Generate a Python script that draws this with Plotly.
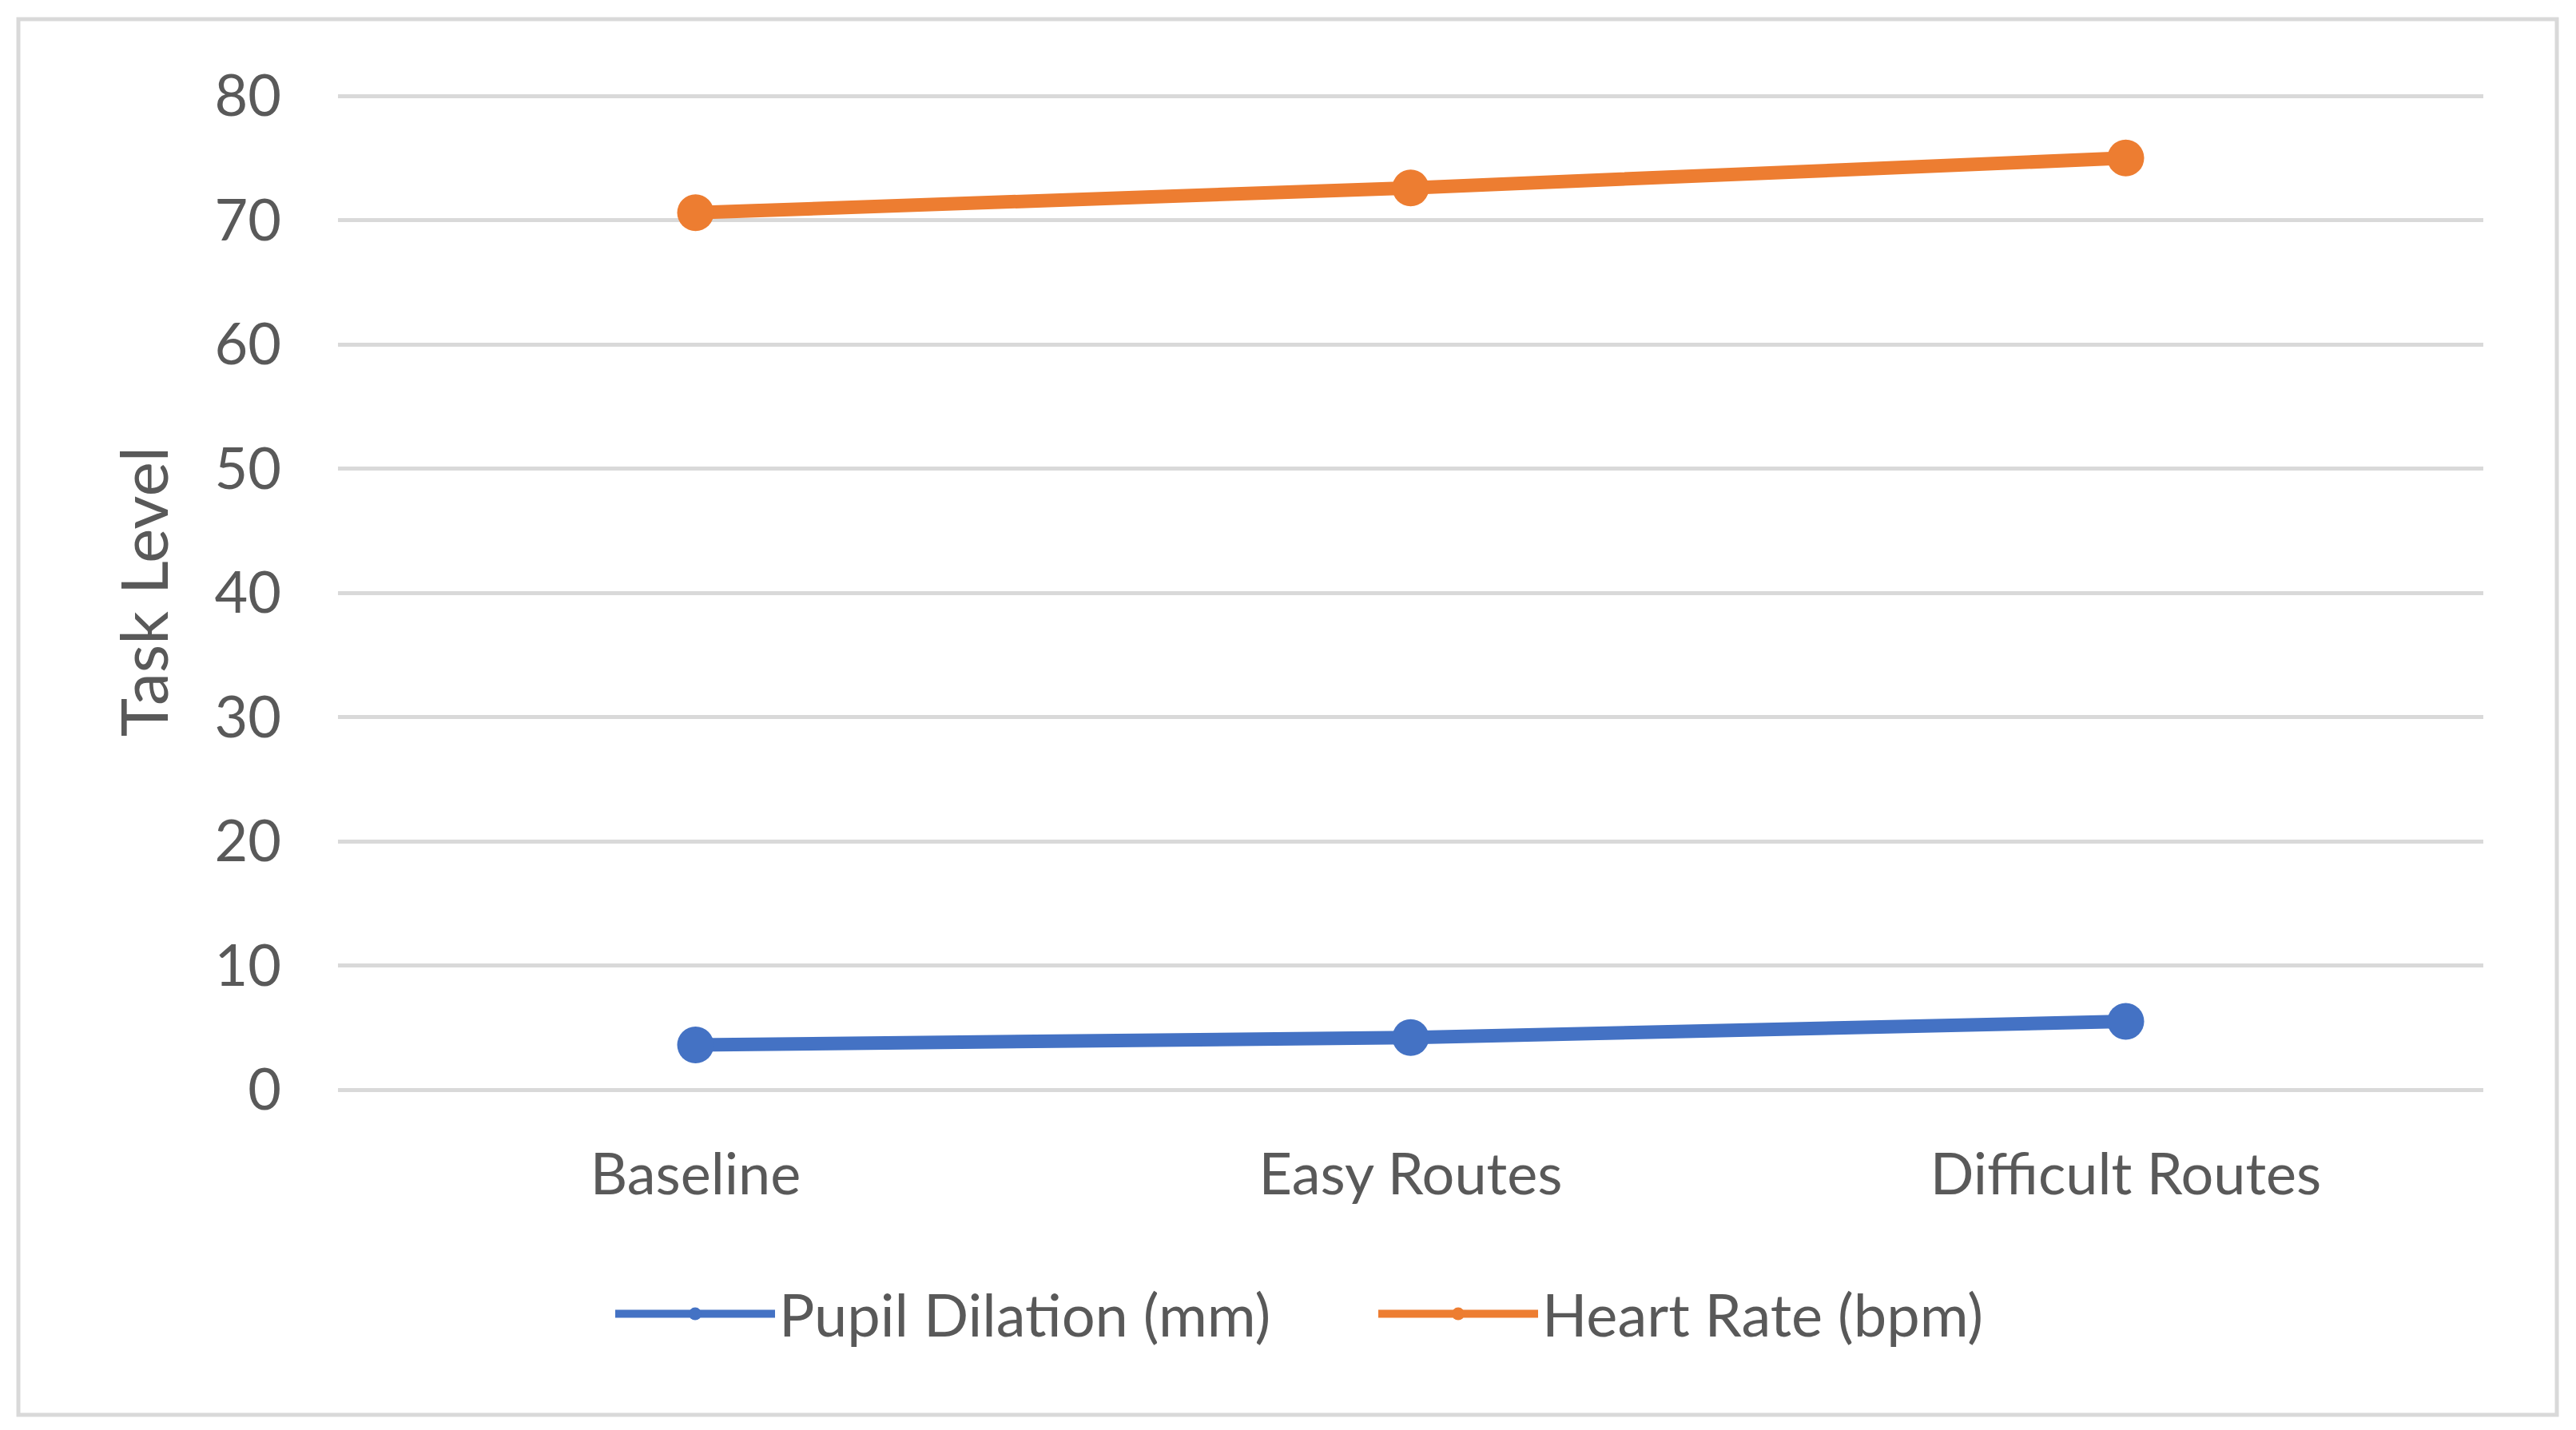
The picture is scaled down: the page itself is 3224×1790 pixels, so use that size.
import plotly.graph_objects as go

categories = ["Baseline", "Easy Routes", "Difficult Routes"]
pupil_dilation = [3.6, 4.2, 5.5]
heart_rate = [70.6, 72.6, 75.0]
y_ticks = [0, 10, 20, 30, 40, 50, 60, 70, 80]

PAGE_W, PAGE_H = 3224, 1790
OFF = 8  # default body margin of the html page
W, H = PAGE_W - 2 * OFF, PAGE_H - 2 * OFF
FONT = "Lato"
TXT = "#595959"
GRID = "#d9d9d9"

# plot area edges in page pixels
px_left, px_right, px_top, px_bottom = 423, 3108, 117, 1364
L = px_left - OFF
R = W - (px_right - OFF)
T = px_top - OFF
B = H - (px_bottom - OFF)
pw = W - L - R
ph = H - T - B

fig = go.Figure()
fig.add_trace(go.Scatter(
    x=categories, y=pupil_dilation, name="Pupil Dilation (mm)",
    mode="lines+markers",
    line=dict(color="#4472C4", width=17),
    marker=dict(color="#4472C4", size=46),
))
fig.add_trace(go.Scatter(
    x=categories, y=heart_rate, name="Heart Rate (bpm)",
    mode="lines+markers",
    line=dict(color="#ED7D31", width=17),
    marker=dict(color="#ED7D31", size=46),
))

fig.update_layout(
    width=W, height=H,
    margin=dict(l=L, r=R, t=T, b=B, autoexpand=False),
    paper_bgcolor="white", plot_bgcolor="white",
    font=dict(family=FONT, color=TXT, size=72),
    showlegend=True,
    legend=dict(
        orientation="h", xref="container", yref="container",
        x=(765 - OFF) / W, xanchor="left",
        y=1 - (1645 - OFF) / H, yanchor="middle",
        font=dict(family=FONT, size=74, color=TXT),
        itemwidth=200, tracegroupgap=0,
        entrywidth=740, entrywidthmode="pixels",
        itemsizing="trace",
        bgcolor="rgba(0,0,0,0)",
    ),
    xaxis=dict(
        type="category", range=[-0.5, 2.5],
        showgrid=False, showline=False, zeroline=False, ticks="",
        tickfont=dict(family=FONT, size=72, color=TXT),
        ticklabelstandoff=58,
    ),
    yaxis=dict(
        range=[0, 80.2], tickvals=y_ticks,
        showgrid=True, gridcolor=GRID, gridwidth=5,
        zeroline=True, zerolinecolor=GRID, zerolinewidth=5,
        showline=False, ticks="",
        tickfont=dict(family=FONT, size=72, color=TXT),
        ticklabelstandoff=70,
        title=dict(text="Task Level", font=dict(family=FONT, size=82, color=TXT), standoff=30),
    ),
)

# outer chart border (page pixels 23,24 -> 3200,1771)
fig.add_shape(
    type="rect", xref="paper", yref="paper",
    x0=(23 - px_left) / pw, x1=(3200 - px_left) / pw,
    y0=(px_bottom - 1771) / ph, y1=(px_bottom - 24) / ph,
    line=dict(color=GRID, width=5), fillcolor="rgba(0,0,0,0)", layer="below",
)

fig.write_html("out.html")
